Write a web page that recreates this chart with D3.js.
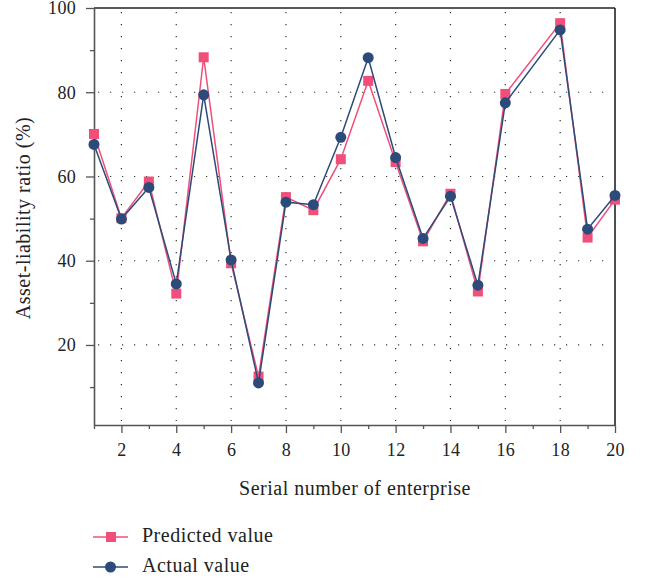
<!DOCTYPE html>
<html>
<head>
<meta charset="utf-8">
<script src="https://cdn.jsdelivr.net/npm/d3@7"></script>
<style>
  body { margin: 0; background: #fff; }
  text { font-family: "Liberation Serif", "DejaVu Serif", serif; fill: #222; }
</style>
</head>
<body>
<div id="chart"></div>
<script>
// enterprise serial numbers (no point at 17 in the figure)
var enterprises = [1, 2, 3, 4, 5, 6, 7, 8, 9, 10, 11, 12, 13, 14, 15, 16, 18, 19, 20];
var predicted = [70.1, 50.1, 58.8, 32.2, 88.3, 39.4, 12.5, 55.1, 52.0, 64.1, 82.7, 63.4, 44.6, 55.9, 32.7, 79.6, 96.4, 45.5, 54.5];
var actual = [67.6, 49.9, 57.4, 34.5, 79.4, 40.2, 11.0, 53.9, 53.3, 69.3, 88.2, 64.5, 45.3, 55.3, 34.2, 77.5, 94.8, 47.5, 55.5];

var yMajor = [20, 40, 60, 80, 100];
var yMinor = [10, 30, 50, 70, 90];
var xMajor = [2, 4, 6, 8, 10, 12, 14, 16, 18, 20];
var xMinor = [1, 3, 5, 7, 9, 11, 13, 15, 17, 19];

var pink = "#f04f7a", navy = "#2c4b7a";

var margin = { top: 8, right: 33, bottom: 154, left: 94 },
    width = 648 - margin.left - margin.right,
    height = 579 - margin.top - margin.bottom;

var svg = d3.select("#chart")
  .append("svg")
  .attr("width", 648)
  .attr("height", 579);

var g = svg.append("g")
  .attr("transform", "translate(" + margin.left + "," + margin.top + ")");

var x = d3.scaleLinear().domain([1, 20]).range([0, width]);
var y = d3.scaleLinear().domain([1, 100]).range([height, 0]);

// dotted grid
g.selectAll(".vgrid")
  .data(xMajor.filter(function (d) { return d < 20; }))
  .enter().append("line")
  .attr("x1", function (d) { return x(d); })
  .attr("x2", function (d) { return x(d); })
  .attr("y1", 4).attr("y2", height - 4)
  .attr("stroke", "#333").attr("stroke-width", 1.2)
  .attr("stroke-dasharray", "1.2,10.8");

g.selectAll(".hgrid")
  .data(yMajor.filter(function (d) { return d < 100; }))
  .enter().append("line")
  .attr("x1", 4).attr("x2", width - 4)
  .attr("y1", function (d) { return y(d); })
  .attr("y2", function (d) { return y(d); })
  .attr("stroke", "#333").attr("stroke-width", 1.2)
  .attr("stroke-dasharray", "1.2,10.8");

// frame: top and right
g.append("line").attr("x1", 0).attr("x2", width).attr("y1", 0).attr("y2", 0)
  .attr("stroke", "#222").attr("stroke-width", 1.6);
g.append("line").attr("x1", width).attr("x2", width).attr("y1", 0).attr("y2", height)
  .attr("stroke", "#222").attr("stroke-width", 1.6);

// axes
g.append("g")
  .call(d3.axisLeft(y).tickValues(yMajor).tickSize(8).tickPadding(10).tickSizeOuter(0));
g.append("g")
  .call(d3.axisLeft(y).tickValues(yMinor).tickSize(4).tickFormat("").tickSizeOuter(0))
  .select(".domain").remove();

g.append("g")
  .attr("transform", "translate(0," + height + ")")
  .call(d3.axisBottom(x).tickValues(xMajor).tickSize(8).tickPadding(10).tickSizeOuter(0));
g.append("g")
  .attr("transform", "translate(0," + height + ")")
  .call(d3.axisBottom(x).tickValues(xMinor).tickSize(4).tickFormat("").tickSizeOuter(0))
  .select(".domain").remove();

g.selectAll(".domain").attr("stroke", "#555").attr("stroke-width", 1.6);
g.selectAll(".tick line").attr("stroke", "#555").attr("stroke-width", 1.3);
g.selectAll(".tick text")
  .style("font-family", "Liberation Serif, DejaVu Serif, serif")
  .style("font-size", "18px")
  .style("letter-spacing", "0.3px")
  .attr("fill", "#222");

// axis titles
svg.append("text")
  .attr("x", 355)
  .attr("y", 495)
  .attr("text-anchor", "middle")
  .style("font-size", "20px")
  .style("letter-spacing", "0.5px")
  .text("Serial number of enterprise");

svg.append("text")
  .attr("transform", "translate(30," + 218 + ") rotate(-90)")
  .attr("text-anchor", "middle")
  .style("font-size", "20px")
  .style("letter-spacing", "0.5px")
  .text("Asset-liability ratio (%)");

// series
var line = function (vals) {
  return d3.line()
    .x(function (d, i) { return x(enterprises[i]); })
    .y(function (d) { return y(d); })(vals);
};

var plot = svg.append("g")
  .attr("transform", "translate(" + margin.left + "," + margin.top + ")");

plot.append("path").attr("d", line(predicted))
  .attr("fill", "none").attr("stroke", pink).attr("stroke-width", 1.5);
plot.selectAll(".sq").data(predicted).enter().append("rect")
  .attr("x", function (d, i) { return x(enterprises[i]) - 5; })
  .attr("y", function (d) { return y(d) - 5; })
  .attr("width", 10).attr("height", 10)
  .attr("fill", pink);

plot.append("path").attr("d", line(actual))
  .attr("fill", "none").attr("stroke", navy).attr("stroke-width", 1.5);
plot.selectAll(".dot").data(actual).enter().append("circle")
  .attr("cx", function (d, i) { return x(enterprises[i]); })
  .attr("cy", function (d) { return y(d); })
  .attr("r", 5.5)
  .attr("fill", navy);

// legend
var legend = svg.append("g").attr("transform", "translate(93,537)");
legend.append("line").attr("x1", 0).attr("x2", 35).attr("y1", 0).attr("y2", 0)
  .attr("stroke", pink).attr("stroke-width", 1.5);
legend.append("rect").attr("x", 13).attr("y", -5).attr("width", 10).attr("height", 10)
  .attr("fill", pink);
legend.append("text").attr("x", 49).attr("y", 5)
  .style("font-size", "20px").style("letter-spacing", "0.5px").text("Predicted value");

legend.append("line").attr("x1", 0).attr("x2", 35).attr("y1", 30).attr("y2", 30)
  .attr("stroke", navy).attr("stroke-width", 1.5);
legend.append("circle").attr("cx", 17.5).attr("cy", 30).attr("r", 5.5)
  .attr("fill", navy);
legend.append("text").attr("x", 49).attr("y", 35)
  .style("font-size", "20px").style("letter-spacing", "0.5px").text("Actual value");
</script>
</body>
</html>
